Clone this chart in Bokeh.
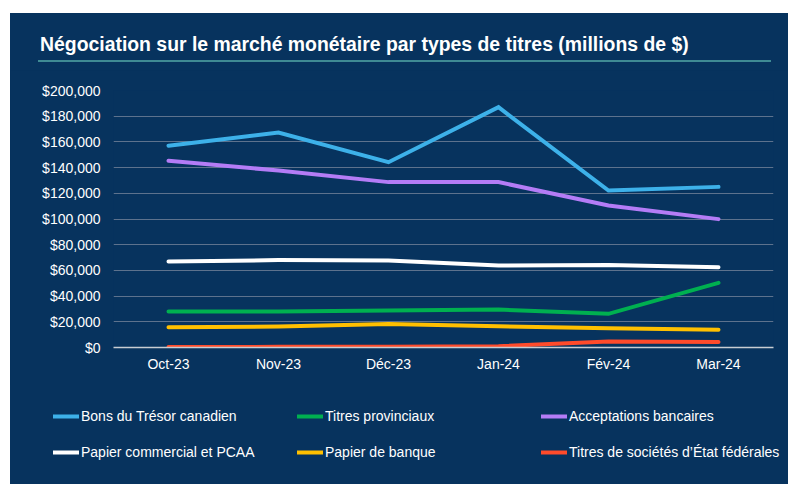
from bokeh.plotting import figure
from bokeh.models import (FactorRange, Range1d, NumeralTickFormatter, Legend,
                          LegendItem, Div, FixedTicker)
from bokeh.layouts import column, row
from bokeh.embed import file_html
from bokeh.resources import INLINE

# ---- data ----
months = ["Oct-23", "Nov-23", "Déc-23", "Jan-24", "Fév-24", "Mar-24"]
bons_tresor = [157000, 167300, 144200, 187000, 122200, 125000]
titres_provinciaux = [28000, 28000, 28800, 29500, 26200, 50300]
acceptations = [145300, 137700, 128700, 128700, 110500, 99900]
papier_commercial = [66900, 68000, 67700, 63800, 64200, 62500]
papier_banque = [15800, 16300, 18300, 16500, 15000, 13800]
titres_societes = [300, 500, 600, 1000, 4600, 4300]
y_ticks = [0, 20000, 40000, 60000, 80000, 100000, 120000, 140000, 160000, 180000, 200000]

series_names = ["Bons du Trésor canadien", "Titres provinciaux", "Acceptations bancaires",
                "Papier commercial et PCAA", "Papier de banque",
                "Titres de sociétés d’État fédérales"]
series_values = [bons_tresor, titres_provinciaux, acceptations,
                 papier_commercial, papier_banque, titres_societes]
series_colors = ["#3db1e9", "#00b050", "#b47cf6", "#ffffff", "#ffc000", "#ff4b2b"]

title_text = "Négociation sur le marché monétaire par types de titres (millions de $)"

NAVY = "#07335e"
FONT = "Liberation Sans"

# ---- title block ----
title_div = Div(
    text=(f'<div style="font-family:\'{FONT}\';font-weight:bold;font-size:19.4px;'
          f'line-height:22px;color:#ffffff;padding-top:20px;margin-left:30px;'
          f'white-space:nowrap;">{title_text}</div>'
          f'<div style="margin-top:5px;margin-left:28px;width:733px;height:2px;'
          f'background:#3f8b94;"></div>'),
    width=778, height=57, margin=0,
    styles={"background-color": NAVY},
)

# ---- chart ----
p = figure(x_range=FactorRange(*months), y_range=Range1d(0, 200000),
           width=778, height=315, output_backend="svg", toolbar_location=None,
           min_border_left=103, min_border_right=15, min_border_top=20,
           min_border_bottom=38, margin=0,
           background_fill_alpha=0, border_fill_color=NAVY,
           outline_line_color=None)

for vals, col in zip(series_values, series_colors):
    p.line(months, vals, line_color=col, line_width=4,
           line_cap="round", line_join="miter")

p.yaxis.ticker = FixedTicker(ticks=y_ticks)
p.yaxis.formatter = NumeralTickFormatter(format="$0,0")
p.yaxis.axis_line_color = None
p.yaxis.major_tick_line_color = None
p.yaxis.minor_tick_line_color = None
p.yaxis.major_tick_out = 0
p.yaxis.major_tick_in = 0
p.yaxis.major_label_standoff = 13
p.yaxis.major_label_text_color = "#ffffff"
p.yaxis.major_label_text_font = FONT
p.yaxis.major_label_text_font_size = "14px"

p.xaxis.axis_line_color = "#c8cdd3"
p.xaxis.axis_line_width = 1.5
p.xaxis.major_tick_line_color = None
p.xaxis.minor_tick_line_color = None
p.xaxis.major_tick_out = 0
p.xaxis.major_tick_in = 0
p.xaxis.major_label_standoff = 8
p.xaxis.major_label_text_color = "#ffffff"
p.xaxis.major_label_text_font = FONT
p.xaxis.major_label_text_font_size = "14px"

p.xgrid.grid_line_color = None
p.ygrid.grid_line_color = "#5d728d"
p.ygrid.grid_line_width = 1

# ---- legend panel ----
# The same series are plotted here against a y range that shows none of them,
# so that the panel carries only the legend keys drawn from their styles.
lg = figure(x_range=FactorRange(*months), y_range=Range1d(-1, 0),
            width=778, height=99, output_backend="svg", toolbar_location=None,
            x_axis_location=None, y_axis_location=None,
            min_border=0, min_border_left=0, min_border_right=0,
            min_border_top=0, min_border_bottom=0, margin=0,
            background_fill_alpha=0, border_fill_color=NAVY,
            outline_line_color=None)
lg.xgrid.visible = False
lg.ygrid.visible = False

keys = [lg.line(months, vals, line_color=col, line_width=4, line_cap="round")
        for vals, col in zip(series_values, series_colors)]

legend = Legend(
    items=[LegendItem(label=n, renderers=[r]) for n, r in zip(series_names, keys)],
    location=(43, 22), orientation="horizontal", ncols=3,
    border_line_color=None, background_fill_alpha=0,
    padding=0, margin=0, spacing=16,
    label_height=20, glyph_height=20, glyph_width=26, label_standoff=2,
    label_width=200,
    label_text_color="#ffffff", label_text_font=FONT, label_text_font_size="14px",
)
lg.add_layout(legend)

layout = column(title_div, p, row(lg, margin=0, styles={"background-color": NAVY}),
                margin=(13, 0, 0, 10), spacing=0,
                styles={"background-color": NAVY})

open("out.html", "w").write(file_html(layout, INLINE))
